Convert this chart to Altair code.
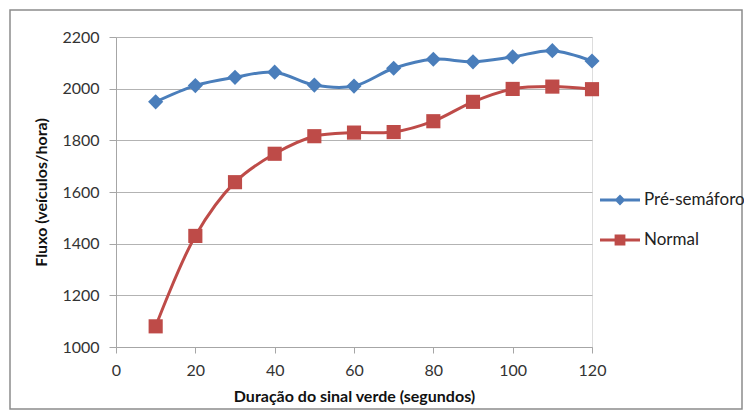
import altair as alt
import pandas as pd

durations = [10, 20, 30, 40, 50, 60, 70, 80, 90, 100, 110, 120]
pre_semaforo = [1949, 2012, 2044, 2064, 2014, 2010, 2079, 2114, 2104, 2123, 2147, 2107]
normal = [1080, 1430, 1638, 1748, 1816, 1830, 1832, 1874, 1949, 1999, 2008, 1998]
series_names = ["Pré-semáforo", "Normal"]
series_colors = ["#4a7ebb", "#be4b48"]
x_ticks = [0, 20, 40, 60, 80, 100, 120]
y_ticks = [1000, 1200, 1400, 1600, 1800, 2000, 2200]

rows = []
for d, v in zip(durations, pre_semaforo):
    rows.append({"dur": d, "fluxo": v, "serie": series_names[0]})
for d, v in zip(durations, normal):
    rows.append({"dur": d, "fluxo": v, "serie": series_names[1]})
df = pd.DataFrame(rows)

FONT = "Lato"
GRID = "#b3b3b3"
AX = "#a6a6a6"

x_enc = alt.X("dur:Q", scale=alt.Scale(domain=[0, 120], nice=False),
              axis=alt.Axis(values=x_ticks, title="Duração do sinal verde (segundos)",
                            grid=False, domainColor=AX, tickColor=AX, tickSize=6,
                            labelPadding=9, labelFontSize=16, labelFont=FONT,
                            labelColor="#333333", titleFont=FONT, titleFontSize=16,
                            titleFontWeight="bold", titleColor="#111111", titlePadding=10,
                            labelFlush=False, format="d"))
y_enc = alt.Y("fluxo:Q", scale=alt.Scale(domain=[1000, 2200], nice=False, zero=False),
              axis=alt.Axis(values=y_ticks, title="Fluxo (veículos/hora)",
                            grid=True, gridColor=GRID, gridWidth=1.2,
                            domainColor=AX, tickColor=AX, tickSize=7,
                            labelPadding=10, labelFontSize=16, labelFont=FONT,
                            labelColor="#333333", titleFont=FONT, titleFontSize=16,
                            titleFontWeight="bold", titleColor="#111111", titlePadding=12,
                            labelFlush=False, format="d"))

# data-driven (sorted) domain for the mark colours: "Normal" < "Pré-semáforo"
sorted_names = sorted(series_names)
sorted_colors = [series_colors[series_names.index(n)] for n in sorted_names]
color_enc = alt.Color("serie:N", scale=alt.Scale(range=sorted_colors), legend=None)

base = alt.Chart(df)

lines = base.mark_line(interpolate="catmull-rom", strokeWidth=3).encode(
    x=x_enc, y=y_enc, color=color_enc, detail="serie:N")

diamonds = base.transform_filter(alt.datum.serie == series_names[0]).mark_point(
    filled=True, opacity=1, shape="diamond", size=230).encode(
    x="dur:Q", y="fluxo:Q", color=color_enc)

squares = base.transform_filter(alt.datum.serie == series_names[1]).mark_square(
    filled=True, opacity=1, size=200).encode(
    x="dur:Q", y="fluxo:Q", color=color_enc)

legend_paths = [
    "M-1,-0.075H1V0.075H-1Z M0,-0.27L0.27,0L0,0.27L-0.27,0Z",
    "M-1,-0.075H1V0.075H-1Z M-0.27,-0.27H0.27V0.27H-0.27Z",
]
leg = alt.Legend(title=None, orient="none", legendX=484, legendY=143,
                 symbolSize=1600, symbolStrokeWidth=0, rowPadding=12, labelOffset=4,
                 labelFont=FONT, labelFontSize=17, labelColor="#222222", symbolOpacity=1)
legend_layer = base.mark_point(filled=True, opacity=0, size=10).encode(
    x="dur:Q", y="fluxo:Q",
    fill=alt.Fill("serie:N", scale=alt.Scale(domain=series_names, range=series_colors), legend=leg),
    shape=alt.Shape("serie:N", scale=alt.Scale(domain=series_names, range=legend_paths), legend=leg))

frame = alt.Chart(pd.DataFrame({"a": [0]})).mark_rect(
    fill=None, stroke="#8c8c8c", strokeWidth=1.5).encode(
    x=alt.value(-106), x2=alt.value(626), y=alt.value(-27), y2=alt.value(372))

chart = alt.layer(frame, lines, diamonds, squares, legend_layer).properties(
    width=476, height=310,
    autosize=alt.AutoSizeParams(type="none"),
    padding={"left": 108, "top": 29, "right": 152, "bottom": 64},
).configure_view(stroke=None).configure(background="white")

chart.save("out.html", embed_options={"renderer": "svg", "actions": False})
